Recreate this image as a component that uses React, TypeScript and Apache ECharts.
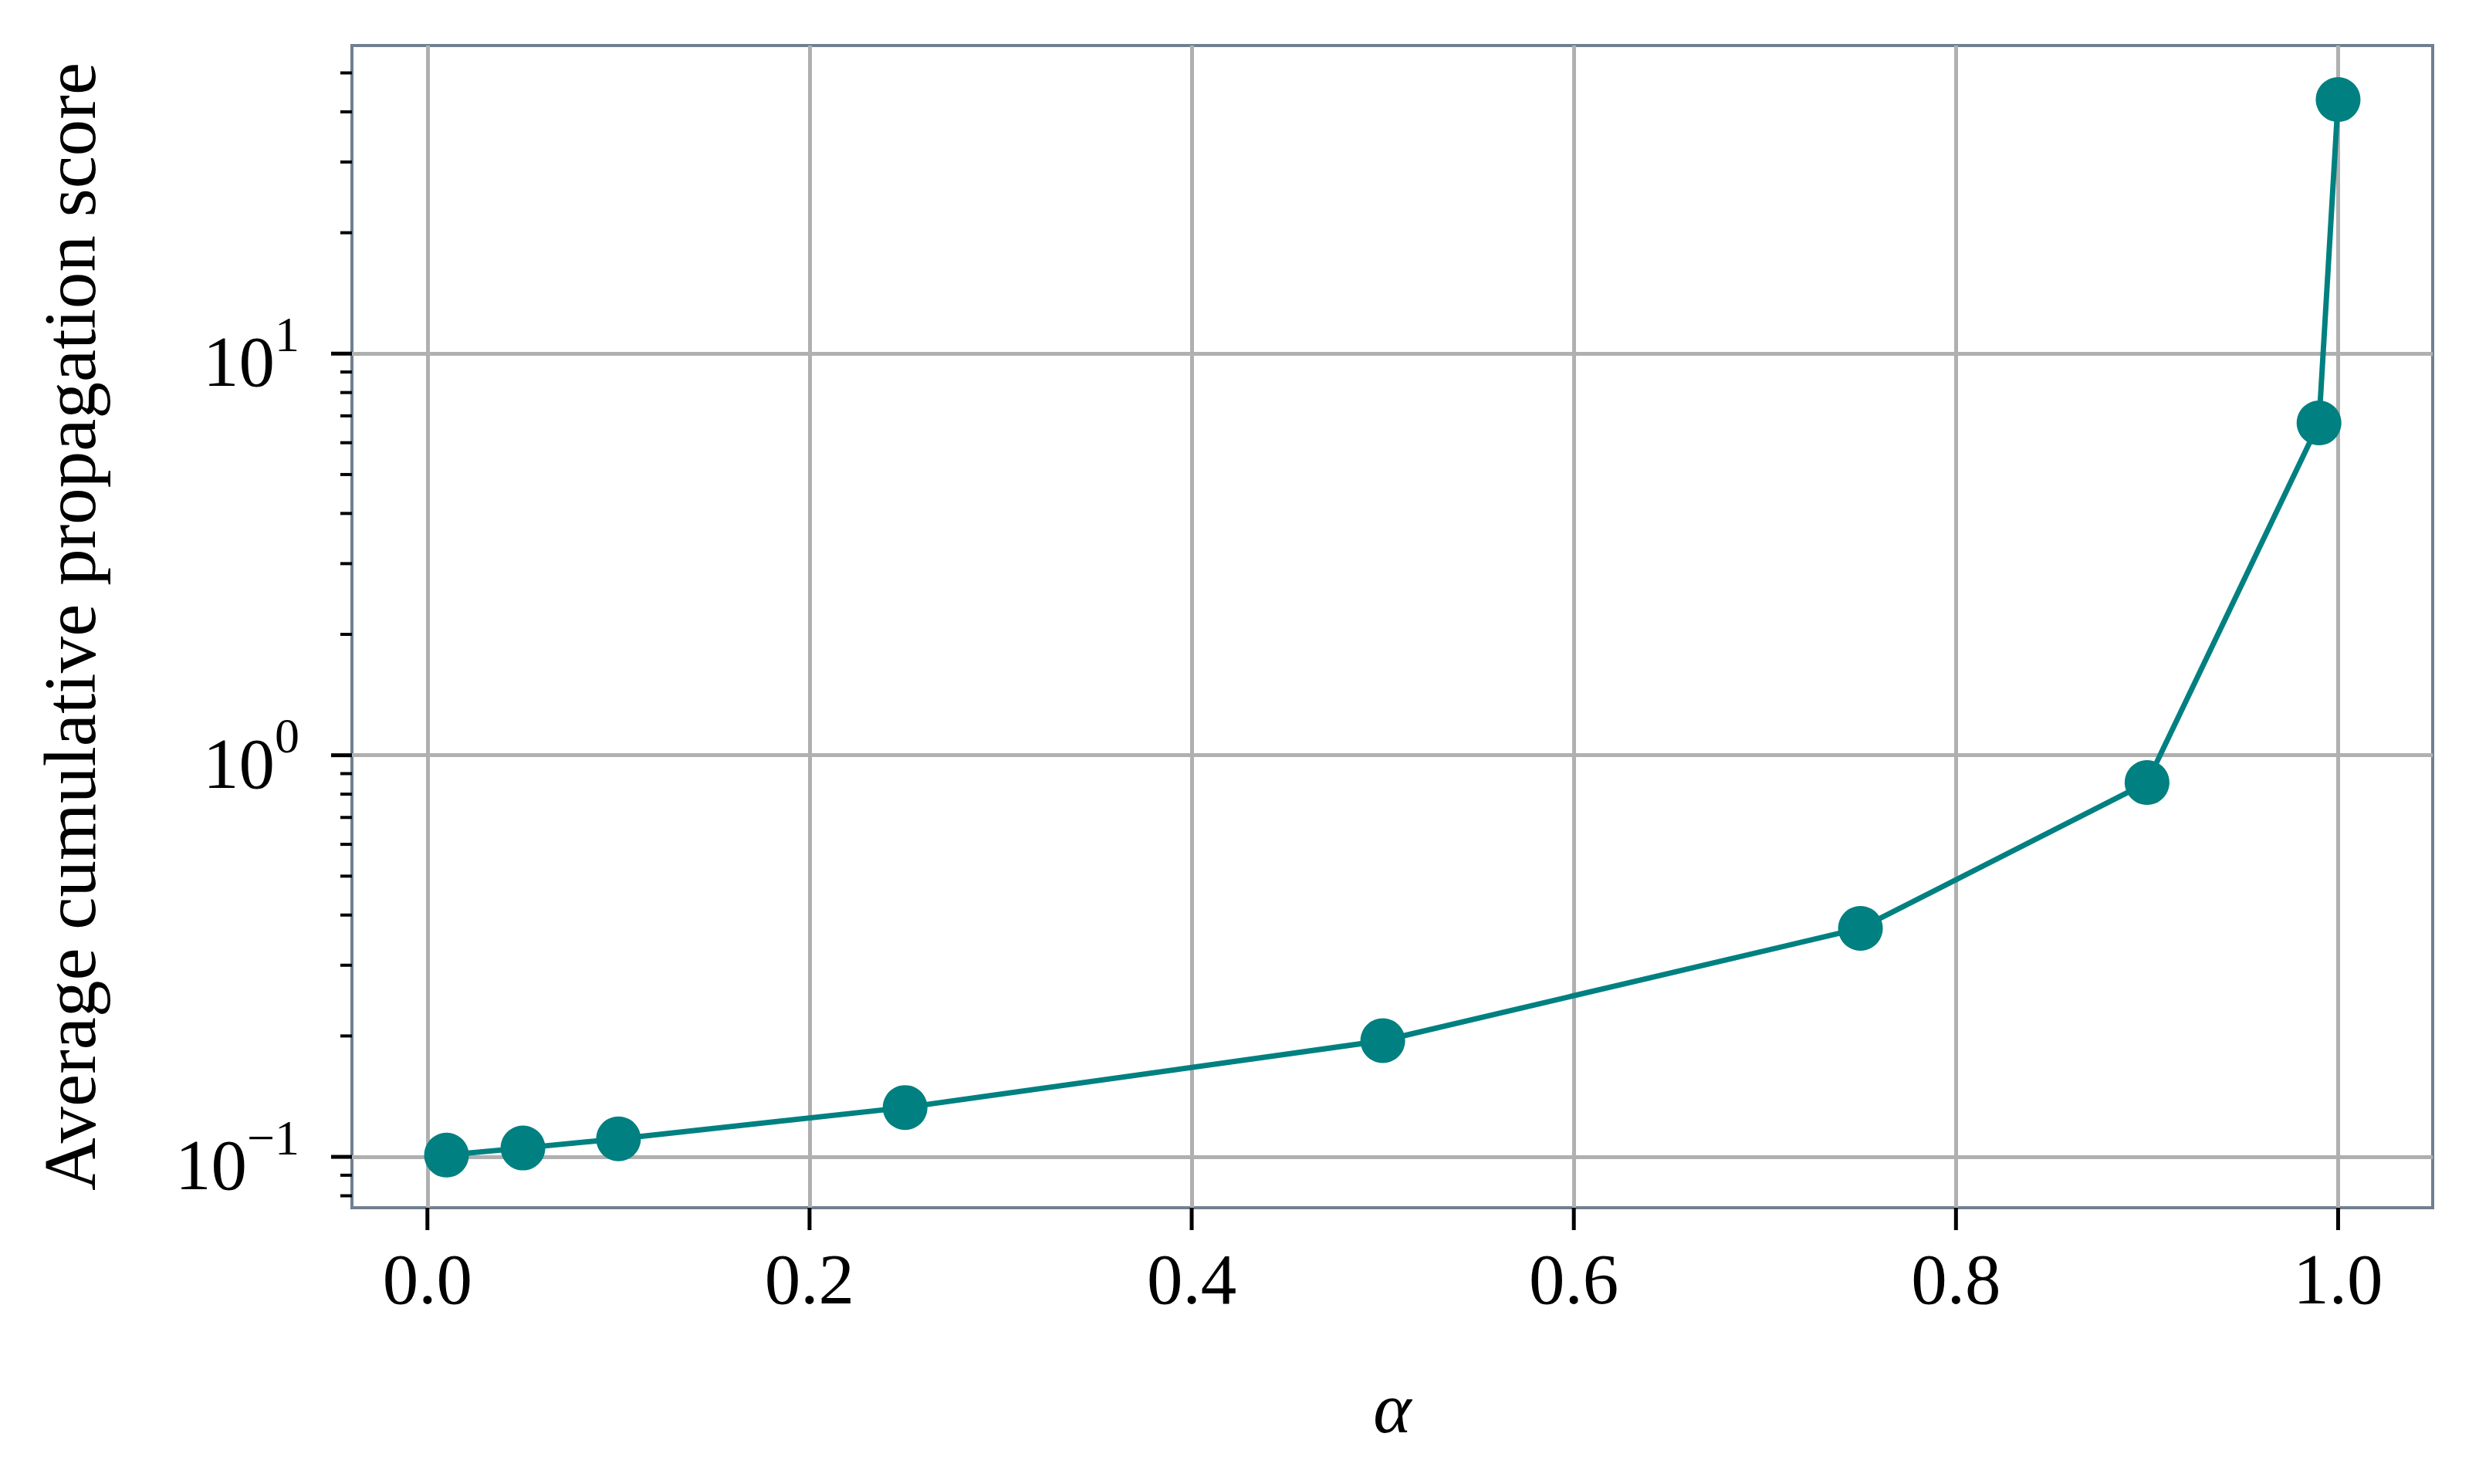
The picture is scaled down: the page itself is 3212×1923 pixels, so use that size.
import React, { useEffect, useRef } from 'react';
import * as echarts from 'echarts';

// Data
const alphaValues = [0.01, 0.05, 0.1, 0.25, 0.5, 0.75, 0.9, 0.99, 1.0];
const scoreValues = [0.101, 0.1052, 0.1109, 0.1327, 0.1947, 0.3707, 0.855, 6.72, 42.9];

// Axis ticks
const xTickValues = [0, 0.2, 0.4, 0.6, 0.8, 1.0];
const yMajorTickValues = [0.1, 1, 10];
const yMinorTickValues = [0.08, 0.09, 0.2, 0.3, 0.4, 0.5, 0.6, 0.7, 0.8, 0.9, 2, 3, 4, 5, 6, 7, 8, 9, 20, 30, 40, 50];

const X_MIN = -0.0395;
const X_MAX = 1.0495;
const Y_MIN = 0.0747;
const Y_MAX = 58.5;

const FONT = '"Liberation Serif", "DejaVu Serif", serif';
const TEAL = '#008080';
const GRID_COLOR = '#b0b0b0';
const SPINE_COLOR = '#708090';

export default function App() {
  const ref = useRef<HTMLDivElement>(null);

  useEffect(() => {
    if (!ref.current) return;
    const chart = echarts.init(ref.current, undefined, { renderer: 'svg' });

    const yTickData = [
      ...yMajorTickValues.map((v) => [X_MIN, v, 27, 5]),
      ...yMinorTickValues.map((v) => [X_MIN, v, 15, 4]),
    ];
    const xTickData = xTickValues.map((v) => [v, Y_MIN, 29, 5]);

    const option: any = {
      animation: false,
      backgroundColor: '#ffffff',
      grid: {
        left: 456,
        right: 60,
        top: 59,
        bottom: 358,
        show: true,
        borderColor: SPINE_COLOR,
        borderWidth: 4,
        backgroundColor: 'transparent',
      },
      xAxis: {
        type: 'value',
        min: X_MIN,
        max: X_MAX,
        splitNumber: 5,
        name: 'α',
        nameLocation: 'middle',
        nameGap: 212,
        nameTextStyle: { fontFamily: FONT, fontSize: 94, fontStyle: 'italic', color: '#000' },
        axisLine: { show: false },
        axisTick: { show: false },
        splitLine: {
          show: true,
          showMinLine: false,
          showMaxLine: false,
          lineStyle: { color: GRID_COLOR, width: 5 },
        },
        axisLabel: {
          margin: 46,
          fontFamily: FONT,
          fontSize: 93,
          color: '#000',
          formatter: (v: number) => {
            const k = v / 0.2;
            return Math.abs(k - Math.round(k)) < 1e-6 ? v.toFixed(1) : '';
          },
        },
      },
      yAxis: {
        type: 'log',
        logBase: 10,
        min: Y_MIN,
        max: Y_MAX,
        name: 'Average cumulative propagation score',
        nameLocation: 'middle',
        nameGap: 318,
        nameRotate: 90,
        nameTextStyle: { fontFamily: FONT, fontSize: 95, color: '#000' },
        axisLine: { show: false },
        axisTick: { show: false },
        minorTick: { show: false },
        splitLine: {
          show: true,
          showMinLine: false,
          showMaxLine: false,
          lineStyle: { color: GRID_COLOR, width: 5 },
        },
        axisLabel: {
          margin: 68,
          color: '#000',
          formatter: (v: number) => {
            const l = Math.log10(v);
            const e = Math.round(l);
            if (Math.abs(l - e) > 1e-6) return '';
            const exp = e < 0 ? '\u2212' + -e : String(e);
            return `{b|10}{s|${exp}}`;
          },
          rich: {
            b: { fontFamily: FONT, fontSize: 93, lineHeight: 114, verticalAlign: 'bottom', color: '#000' },
            s: { fontFamily: FONT, fontSize: 64, lineHeight: 62, verticalAlign: 'top', color: '#000' },
          },
        },
      },
      series: [
        {
          type: 'line',
          data: alphaValues.map((a, i) => [a, scoreValues[i]]),
          lineStyle: { color: TEAL, width: 7 },
          itemStyle: { color: TEAL },
          symbol: 'circle',
          symbolSize: 58,
          showSymbol: true,
          z: 5,
        },
        {
          type: 'custom',
          clip: false,
          silent: true,
          z: 10,
          data: yTickData,
          renderItem: (params: any, api: any) => {
            const p = api.coord([api.value(0), api.value(1)]);
            const len = api.value(2);
            return {
              type: 'line',
              shape: { x1: p[0] - len, y1: p[1], x2: p[0], y2: p[1] },
              style: { stroke: '#000', lineWidth: api.value(3) },
            };
          },
        },
        {
          type: 'custom',
          clip: false,
          silent: true,
          z: 10,
          data: xTickData,
          renderItem: (params: any, api: any) => {
            const p = api.coord([api.value(0), api.value(1)]);
            const len = api.value(2);
            return {
              type: 'line',
              shape: { x1: p[0], y1: p[1], x2: p[0], y2: p[1] + len },
              style: { stroke: '#000', lineWidth: api.value(3) },
            };
          },
        },
      ],
    };

    chart.setOption(option);
    return () => chart.dispose();
  }, []);

  return (
    <div
      ref={ref}
      style={{ position: 'fixed', left: 0, top: 0, width: 3212, height: 1923, background: '#fff' }}
    />
  );
}
